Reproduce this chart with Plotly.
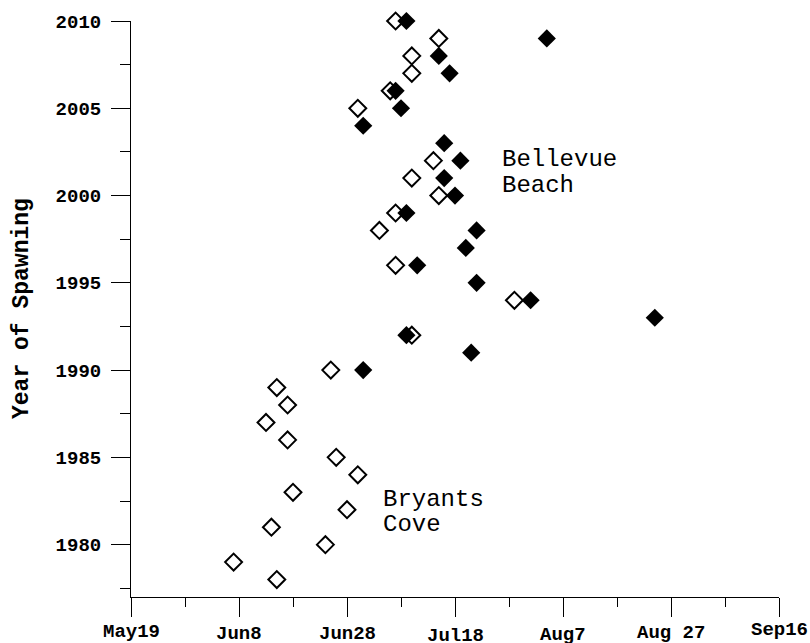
import plotly.graph_objects as go

# Spawning dates (month-day) by year at the two beaches
bc_years = [2010, 2009, 2008, 2007, 2006, 2005, 2002, 2001, 2000, 1999, 1998,
            1996, 1994, 1992, 1990, 1989, 1988, 1987, 1986, 1985, 1984, 1983,
            1982, 1981, 1980, 1979, 1978]
bc_dates = ["07-07", "07-15", "07-10", "07-10", "07-06", "06-30", "07-14",
            "07-10", "07-15", "07-07", "07-04", "07-07", "07-29", "07-10",
            "06-25", "06-15", "06-17", "06-13", "06-17", "06-26", "06-30",
            "06-18", "06-28", "06-14", "06-24", "06-07", "06-15"]

bb_years = [2010, 2009, 2008, 2007, 2006, 2005, 2004, 2003, 2002, 2001, 2000,
            1999, 1998, 1997, 1996, 1995, 1994, 1993, 1992, 1991, 1990]
bb_dates = ["07-09", "08-04", "07-15", "07-17", "07-07", "07-08", "07-01",
            "07-16", "07-19", "07-16", "07-18", "07-09", "07-22", "07-20",
            "07-11", "07-22", "08-01", "08-24", "07-09", "07-21", "07-01"]

# Axis ticks
x_tick_dates = ["05-19", "06-08", "06-28", "07-18", "08-07", "08-27", "09-16"]
x_tick_text = ["May19", "Jun8", "Jun28", "Jul18", "Aug7", "Aug 27", "Sep16"]
x_minor_dates = ["05-29", "06-18", "07-08", "07-28", "08-17", "09-06"]
y_tick_vals = [1980, 1985, 1990, 1995, 2000, 2005, 2010]

BASE_YEAR = "2001-"


def as_date(md):
    return BASE_YEAR + md


# Plot-area geometry (pixels) used to place free text
L, R, T, B = 131, 779, 19, 597
W, H = R - L, B - T


def px(x):
    return (x - L) / W


def py(y):
    return (B - y) / H


MONO = "Liberation Mono, Courier New, monospace"

fig = go.Figure()

fig.add_trace(go.Scatter(
    x=[as_date(d) for d in bc_dates], y=bc_years, mode="markers",
    name="Bryants Cove", cliponaxis=False,
    marker=dict(symbol="diamond-open", size=13, color="black",
                line=dict(width=2, color="black")),
))
fig.add_trace(go.Scatter(
    x=[as_date(d) for d in bb_dates], y=bb_years, mode="markers",
    name="Bellevue Beach", cliponaxis=False,
    marker=dict(symbol="diamond", size=14, color="black",
                line=dict(width=0)),
))

# Staggered date labels under the x axis
label_y = [632, 634, 634, 636, 635, 633, 630]
annotations = []
for d, txt, yy in zip(x_tick_dates, x_tick_text, label_y):
    annotations.append(dict(
        x=as_date(d), xref="x", y=py(yy), yref="paper", text=txt,
        showarrow=False, xanchor="center", yanchor="middle",
        font=dict(family=MONO, size=19, color="black", weight="bold"),
    ))

# Site labels
for txt, x0, y0 in [("Bellevue", 500, 158), ("Beach", 500, 184),
                    ("Bryants", 381, 499), ("Cove", 381, 524)]:
    annotations.append(dict(
        x=px(x0), xref="paper", y=py(y0), yref="paper", text=txt,
        showarrow=False, xanchor="left", yanchor="middle",
        font=dict(family=MONO, size=24, color="black"),
    ))

# Y axis title
annotations.append(dict(
    x=px(22), xref="paper", y=py(308), yref="paper", text="Year of Spawning",
    textangle=-90, showarrow=False, xanchor="center", yanchor="middle",
    font=dict(family=MONO, size=23, color="black", weight="bold"),
))

fig.update_layout(
    width=810, height=643,
    margin=dict(l=L, r=810 - R, t=T, b=643 - B),
    paper_bgcolor="white", plot_bgcolor="white",
    showlegend=False,
    annotations=annotations,
    xaxis=dict(
        type="date",
        range=[as_date("05-19"), as_date("09-16")],
        tickmode="array", tickvals=[as_date(d) for d in x_tick_dates],
        showticklabels=False,
        ticks="outside", ticklen=19, tickwidth=1, tickcolor="black",
        minor=dict(tickmode="array",
                   tickvals=[as_date(d) for d in x_minor_dates],
                   ticks="outside", ticklen=9, tickwidth=1,
                   tickcolor="black", showgrid=False),
        showline=True, linecolor="black", linewidth=1,
        showgrid=False, zeroline=False,
    ),
    yaxis=dict(
        range=[1977, 2010],
        tickmode="array", tickvals=y_tick_vals,
        ticktext=[str(v) for v in y_tick_vals],
        ticks="outside", ticklen=19, tickwidth=1, tickcolor="black",
        ticklabelstandoff=6,
        tickfont=dict(family=MONO, size=19, color="black", weight="bold"),
        minor=dict(tick0=1977.5, dtick=5, ticks="outside", ticklen=10,
                   tickwidth=1, tickcolor="black", showgrid=False),
        showline=True, linecolor="black", linewidth=1,
        showgrid=False, zeroline=False,
    ),
)

fig.write_html("out.html")
